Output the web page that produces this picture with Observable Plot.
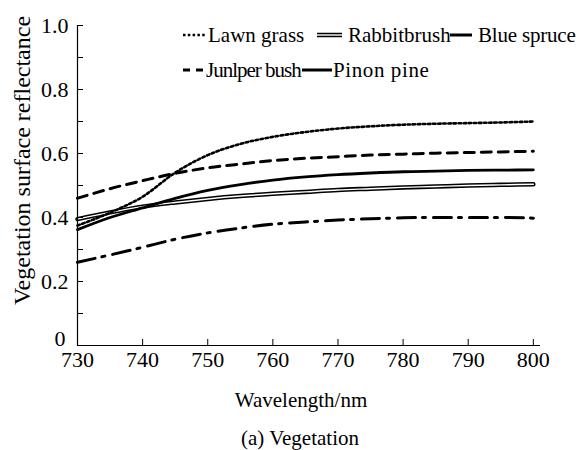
<!DOCTYPE html>
<html><head><meta charset="utf-8">
<script src="https://cdn.jsdelivr.net/npm/d3@7"></script>
<script src="https://cdn.jsdelivr.net/npm/@observablehq/plot@0.6"></script>
<style>
body{margin:0;background:#fff;font-family:"Liberation Serif","Times New Roman",serif;color:#000;}
#wrap{position:relative;width:583px;height:450px;overflow:hidden;}
.item{position:absolute;font-size:21px;line-height:24px;white-space:nowrap;display:flex;align-items:center;}
.item svg{display:block;}
#caption{position:absolute;left:0;width:600px;top:427px;text-align:center;font-size:21px;line-height:22px;}
</style></head><body>
<div id="wrap"></div>
<script>
const wavelength = [730,735,740,745,750,755,760,765,770,775,780,785,790,795,800];
const lawnGrass   = [0.375,0.415,0.465,0.540,0.595,0.630,0.652,0.667,0.678,0.685,0.690,0.693,0.695,0.697,0.700];
const juniperBush = [0.460,0.490,0.515,0.538,0.555,0.567,0.578,0.585,0.590,0.595,0.598,0.601,0.603,0.605,0.607];
const blueSpruce  = [0.362,0.400,0.430,0.460,0.485,0.503,0.517,0.527,0.534,0.539,0.543,0.545,0.547,0.548,0.549];
const rabbitbrush = [0.395,0.416,0.434,0.447,0.458,0.467,0.474,0.480,0.486,0.490,0.494,0.497,0.500,0.502,0.504];
const pinonPine   = [0.260,0.283,0.307,0.332,0.352,0.367,0.379,0.386,0.392,0.396,0.399,0.400,0.400,0.400,0.398];
const xTicks = [730,740,750,760,770,780,790,800];
const yTicks = [0,0.1,0.2,0.3,0.4,0.5,0.6,0.7,0.8,0.9,1.0];
const yLabelTicks = [0.2,0.4,0.6,0.8,1.0];
const yZeroTick = [0];
const legendNames = ["Lawn grass","Rabbitbrush","Blue spruce","Junlper bush","Pinon pine"];

const rows = (vals) => wavelength.map((w, i) => ({w, v: vals[i]}));

const chart = Plot.plot({
  width: 583, height: 420,
  marginLeft: 77, marginRight: 43, marginTop: 25, marginBottom: 75,
  x: {domain: [730, 801.1]},
  y: {domain: [0, 1]},
  style: {fontFamily: '"Liberation Serif","Times New Roman",serif', fontSize: "22px", color: "#000", background: "#fff"},
  marks: [
    Plot.line(rows(pinonPine), {x: "w", y: "v", stroke: "#000", strokeWidth: 3, strokeDasharray: "18,7,3,8", curve: "monotone-x"}),
    Plot.line(rows(rabbitbrush), {x: "w", y: "v", stroke: "#000", strokeWidth: 4.5, curve: "monotone-x"}),
    Plot.line(rows(rabbitbrush), {x: "w", y: "v", stroke: "#fff", strokeWidth: 1.4, curve: "monotone-x"}),
    Plot.line(rows(blueSpruce), {x: "w", y: "v", stroke: "#000", strokeWidth: 2.8, curve: "monotone-x"}),
    Plot.line(rows(juniperBush), {x: "w", y: "v", stroke: "#000", strokeWidth: 3, strokeDasharray: "10,7", curve: "monotone-x"}),
    Plot.line(rows(lawnGrass), {x: "w", y: "v", stroke: "#000", strokeWidth: 2.6, strokeDasharray: "2.5,2.6", curve: "monotone-x"}),
    Plot.ruleX([730], {stroke: "#000", strokeWidth: 1.2}),
    Plot.ruleY([0], {stroke: "#000", strokeWidth: 1.2}),
    Plot.axisY({ticks: yTicks, tickSize: -6, fill: "none", stroke: "#000", label: null}),
    Plot.axisX({ticks: xTicks, tickSize: -6, fill: "none", stroke: "#000", label: null}),
    Plot.axisY({ticks: yLabelTicks, tickSize: 0, tickPadding: 9, tickFormat: d => d.toFixed(1), label: null, fill: "#000"}),
    Plot.axisY({ticks: yZeroTick, tickSize: 0, tickPadding: 12, dy: -7, tickFormat: d => String(d), label: null, fill: "#000"}),
    Plot.axisX({ticks: xTicks, tickSize: 0, tickPadding: 6, tickFormat: d => String(d), label: null, fill: "#000"}),
    Plot.text(["Wavelength/nm"], {text: d => d, frameAnchor: "bottom", dy: 61, dx: -8, fontSize: 21, fill: "#000"}),
    Plot.text(["Vegetation surface reflectance"], {text: d => d, frameAnchor: "left", textAnchor: "middle", rotate: -90, dx: -55, dy: -25, fontSize: 24, fill: "#000"})
  ]
});

const wrap = document.getElementById("wrap");
wrap.appendChild(chart);

function swatch(kind, w) {
  const h = 12, y = 6;
  let s = `<svg width="${w}" height="${h}">`;
  if (kind === "dot") s += `<line x1="0" y1="${y}" x2="${w}" y2="${y}" stroke="#000" stroke-width="2.6" stroke-dasharray="2.5,2.3"/>`;
  else if (kind === "double") s += `<line x1="0" y1="${y}" x2="${w}" y2="${y}" stroke="#000" stroke-width="4.5"/><line x1="0" y1="${y}" x2="${w}" y2="${y}" stroke="#fff" stroke-width="1.4"/>`;
  else if (kind === "dash") s += `<line x1="0" y1="${y}" x2="${w}" y2="${y}" stroke="#000" stroke-width="3" stroke-dasharray="7,6"/>`;
  else s += `<line x1="0" y1="${y}" x2="${w}" y2="${y}" stroke="#000" stroke-width="3"/>`;
  return s + "</svg>";
}
const legendItems = [
  {name: legendNames[0], kind: "dot", left: 183, top: 23, sw: 24, gap: 1, ls: 0},
  {name: legendNames[1], kind: "double", left: 317, top: 23, sw: 25, gap: 6, ls: 0},
  {name: legendNames[2], kind: "solid", left: 450, top: 23, sw: 22, gap: 6, ls: -0.2},
  {name: legendNames[3], kind: "dash", left: 183, top: 58, sw: 22, gap: 1, ls: -1},
  {name: legendNames[4], kind: "solid", left: 302, top: 58, sw: 30, gap: 1, ls: 0.6}
];
legendItems.forEach(it => {
  const d = document.createElement("div");
  d.className = "item";
  d.style.left = it.left + "px";
  d.style.top = it.top + "px";
  d.innerHTML = swatch(it.kind, it.sw) + `<span style="margin-left:${it.gap}px;letter-spacing:${it.ls}px">${it.name}</span>`;
  wrap.appendChild(d);
});
const cap = document.createElement("div");
cap.id = "caption";
cap.textContent = "(a) Vegetation";
wrap.appendChild(cap);
</script>
</body></html>
